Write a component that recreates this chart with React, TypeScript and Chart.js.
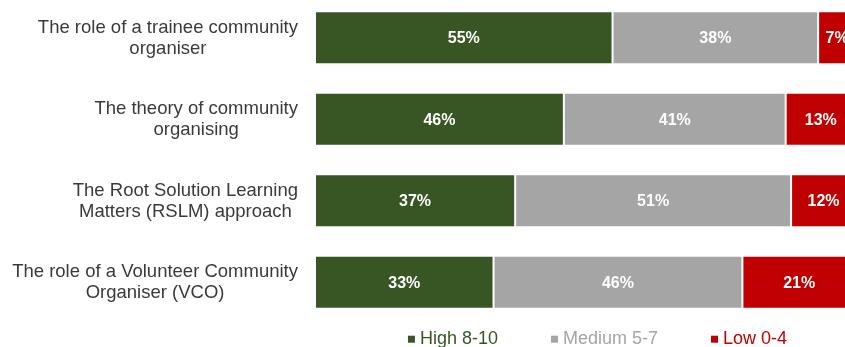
import { useEffect, useRef } from "react";
import { Chart, registerables } from "chart.js";

Chart.register(...registerables);

const categories: string[][] = [
  ["The role of a trainee community", "organiser"],
  ["The theory of community", "organising"],
  ["The Root Solution Learning", "Matters (RSLM) approach"],
  ["The role of a Volunteer Community", "Organiser (VCO)"],
];
const seriesNames = ["High 8-10", "Medium 5-7", "Low 0-4"];
const highValues = [55, 46, 37, 33];
const mediumValues = [38, 41, 51, 46];
const lowValues = [7, 13, 12, 21];
const seriesColors = ["#375623", "#A5A5A5", "#C00000"];

const FONT = '"Liberation Sans", Arial, sans-serif';

const categoryLabelsPlugin = {
  id: "categoryLabels",
  afterDraw(chart: any) {
    const ctx = chart.ctx;
    const yScale = chart.scales.y;
    ctx.save();
    ctx.font = `18.5px ${FONT}`;
    ctx.fillStyle = "#3a3a3a";
    ctx.textAlign = "center";
    ctx.textBaseline = "middle";
    const lh = 21;
    (chart.data.labels as any[]).forEach((lab, i) => {
      const lines: string[] = Array.isArray(lab) ? lab : [lab];
      const widest = Math.max(...lines.map((l) => ctx.measureText(l).width));
      const cx = chart.chartArea.left - 17 - widest / 2;
      const cy = yScale.getPixelForValue(i);
      lines.forEach((line, j) => {
        ctx.fillText(line, cx, cy + 0.5 + (j - (lines.length - 1) / 2) * lh);
      });
    });
    ctx.restore();
  },
};

const valueLabelsPlugin = {
  id: "valueLabels",
  afterDatasetsDraw(chart: any) {
    const ctx = chart.ctx;
    ctx.save();
    ctx.font = `bold 16px ${FONT}`;
    ctx.fillStyle = "#ffffff";
    ctx.textAlign = "center";
    ctx.textBaseline = "middle";
    chart.data.datasets.forEach((ds: any, di: number) => {
      const meta = chart.getDatasetMeta(di);
      meta.data.forEach((el: any, i: number) => {
        const p = el.getCenterPoint();
        ctx.fillText(`${ds.data[i]}%`, p.x, p.y + 1);
      });
    });
    ctx.restore();
  },
};

const customLegendPlugin = {
  id: "customLegend",
  afterDraw(chart: any) {
    const ctx = chart.ctx;
    const area = chart.chartArea;
    ctx.save();
    ctx.font = `18px ${FONT}`;
    ctx.textBaseline = "alphabetic";
    ctx.textAlign = "left";
    const box = 7;
    const textGap = 5;
    const itemGap = 53;
    const items = chart.data.datasets.map((ds: any) => ({
      text: ds.label as string,
      color: ds.backgroundColor as string,
      w: box + textGap + ctx.measureText(ds.label).width,
    }));
    const total =
      items.reduce((s: number, it: any) => s + it.w, 0) + itemGap * (items.length - 1);
    const center = (area.left + area.right) / 2 + 12;
    let x = center - total / 2;
    const baseline = area.bottom + 21;
    items.forEach((it: any) => {
      ctx.fillStyle = it.color;
      ctx.fillRect(x, baseline - 8.3, box, box);
      ctx.fillText(it.text, x + box + textGap, baseline);
      x += it.w + itemGap;
    });
    ctx.restore();
  },
};

export default function App() {
  const canvasRef = useRef<HTMLCanvasElement | null>(null);

  useEffect(() => {
    if (!canvasRef.current) return;
    const values = [highValues, mediumValues, lowValues];
    const chart = new Chart(canvasRef.current, {
      type: "bar",
      data: {
        labels: categories,
        datasets: seriesNames.map((name, i) => ({
          label: name,
          data: values[i],
          backgroundColor: seriesColors[i],
          borderColor: "#ffffff",
          borderWidth: 1,
          borderSkipped: false,
          categoryPercentage: 1,
          barPercentage: 0.65,
        })),
      },
      options: {
        indexAxis: "y",
        animation: false,
        responsive: true,
        maintainAspectRatio: false,
        layout: { padding: { left: 315, right: 4, top: 0, bottom: 24 } },
        scales: {
          x: { stacked: true, min: 0, max: 100, display: false },
          y: { stacked: true, display: false },
        },
        plugins: {
          legend: { display: false },
          tooltip: { enabled: false },
        },
      },
      plugins: [valueLabelsPlugin, categoryLabelsPlugin, customLegendPlugin],
    } as any);
    return () => chart.destroy();
  }, []);

  return (
    <div
      style={{
        position: "fixed",
        left: 0,
        top: 0,
        width: 845,
        height: 347,
        overflow: "hidden",
        background: "#ffffff",
      }}
    >
      <div style={{ position: "absolute", left: 0, top: -3, width: 860, height: 350 }}>
        <canvas ref={canvasRef} />
      </div>
    </div>
  );
}
